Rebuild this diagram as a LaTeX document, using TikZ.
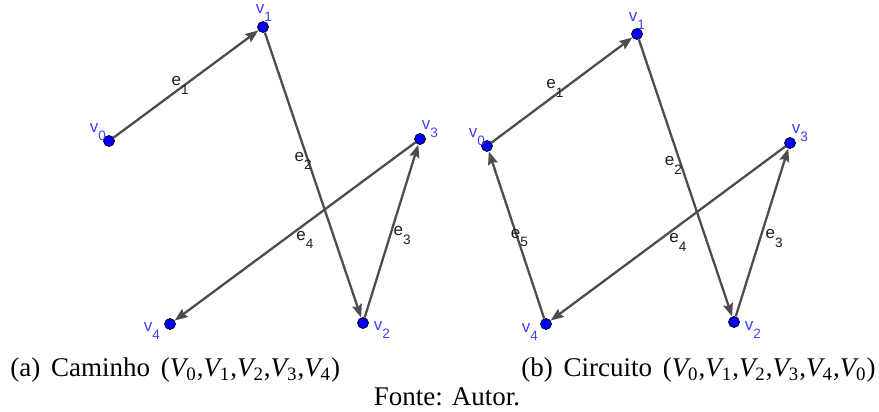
\documentclass[tikz,border=0pt]{standalone}
\usepackage{fontspec}
\setmainfont{Liberation Serif}
\newfontfamily\ggbfont{Liberation Sans}
\usetikzlibrary{positioning,arrows.meta,calc}
\definecolor{ggBlue}{RGB}{0,0,255}
\definecolor{ggLabel}{RGB}{64,64,255}
\definecolor{ggGray}{RGB}{77,77,77}
\definecolor{ggText}{RGB}{30,30,30}
\newcommand{\ggsub}[2]{#1\raisebox{-4.2pt}{\fontsize{6.8pt}{7pt}\selectfont #2}}
\newcommand{\Vsub}[1]{\textit{V}\kern-0.1em\textsubscript{#1}}
\tikzset{
    vert/.style={circle, fill=ggBlue, draw=black, line width=0.35pt,
                 inner sep=0pt, minimum size=5.5pt},
    vlabel/.style={font=\ggbfont\fontsize{8.5pt}{9pt}\selectfont, text=ggLabel, inner sep=0pt},
    elabel/.style={font=\ggbfont\fontsize{8.5pt}{9pt}\selectfont, text=ggText, inner sep=0pt},
    aresta/.style={-{Stealth[length=6.5pt, width=5pt, inset=1pt]}, line width=1.15pt, draw=ggGray},
    legenda/.style={font=\fontsize{13.5pt}{16pt}\selectfont, inner sep=0pt}
}

\begin{document}
\begin{tikzpicture}[x=0.5pt, y=-0.5pt]
  \useasboundingbox (0,0) rectangle (879,412);

  % (a) Caminho
  \node[vert] (a0) at (109,141) {};
  \node[vert] (a1) at (263,27) {};
  \node[vert] (a2) at (363,323) {};
  \node[vert] (a3) at (420,139) {};
  \node[vert] (a4) at (170,324) {};

  \node[vlabel] (la0) at ($(a0)+(-11,-9)$) {\ggsub{v}{0}};
  \node[vlabel] (la1) at ($(a1)+(1,-14)$) {\ggsub{v}{1}};
  \node[vlabel] (la2) at ($(a2)+(19,7)$) {\ggsub{v}{2}};
  \node[vlabel] (la3) at ($(a3)+(10,-10)$) {\ggsub{v}{3}};
  \node[vlabel] (la4) at ($(a4)+(-18,7)$) {\ggsub{v}{4}};

  \draw[aresta] (a0) -- node[elabel, pos=0.46, shift={(0,-3)}] (ea1) {\ggsub{e}{1}} (a1);
  \draw[aresta] (a1) -- node[elabel, pos=0.45, shift={(-5,0)}] (ea2) {\ggsub{e}{2}} (a2);
  \draw[aresta] (a2) -- node[elabel, pos=0.475, shift={(12,0)}] (ea3) {\ggsub{e}{3}} (a3);
  \draw[aresta] (a3) -- node[elabel, pos=0.546, shift={(21,0)}] (ea4) {\ggsub{e}{4}} (a4);

  % (b) Circuito
  \node[vert] (b0) at (487,146) {};
  \node[vert] (b1) at (637,34) {};
  \node[vert] (b2) at (734,322) {};
  \node[vert] (b3) at (790,143) {};
  \node[vert] (b4) at (546,324) {};

  \node[vlabel] (lb0) at ($(b0)+(-10,-9)$) {\ggsub{v}{0}};
  \node[vlabel] (lb1) at ($(b1)+(0,-13)$) {\ggsub{v}{1}};
  \node[vlabel] (lb2) at ($(b2)+(19,8)$) {\ggsub{v}{2}};
  \node[vlabel] (lb3) at ($(b3)+(10,-10)$) {\ggsub{v}{3}};
  \node[vlabel] (lb4) at ($(b4)+(-16,8)$) {\ggsub{v}{4}};

  \draw[aresta] (b0) -- node[elabel, pos=0.45, shift={(0,-7)}] (eb1) {\ggsub{e}{1}} (b1);
  \draw[aresta] (b1) -- node[elabel, pos=0.455, shift={(-8,0)}] (eb2) {\ggsub{e}{2}} (b2);
  \draw[aresta] (b2) -- node[elabel, pos=0.464, shift={(14,0)}] (eb3) {\ggsub{e}{3}} (b3);
  \draw[aresta] (b3) -- node[elabel, pos=0.552, shift={(22,0)}] (eb4) {\ggsub{e}{4}} (b4);
  \draw[aresta] (b4) -- node[elabel, pos=0.483, shift={(2,0)}] (eb5) {\ggsub{e}{5}} (b0);

  % Legendas
  \node[legenda, anchor=base west] (capa) at (10,376)
    {(a)\hspace{0.4em}Caminho\hspace{0.4em}(\Vsub{0},\Vsub{1},\Vsub{2},\Vsub{3},\Vsub{4})};
  \node[legenda, anchor=base east] (capb) at (876,376)
    {(b)\hspace{0.4em}Circuito\hspace{0.4em}(\Vsub{0},\Vsub{1},\Vsub{2},\Vsub{3},\Vsub{4},\Vsub{0})};
  \node[legenda, anchor=base] (fonte) at (447,405) {Fonte: Autor.};
\end{tikzpicture}
\end{document}
